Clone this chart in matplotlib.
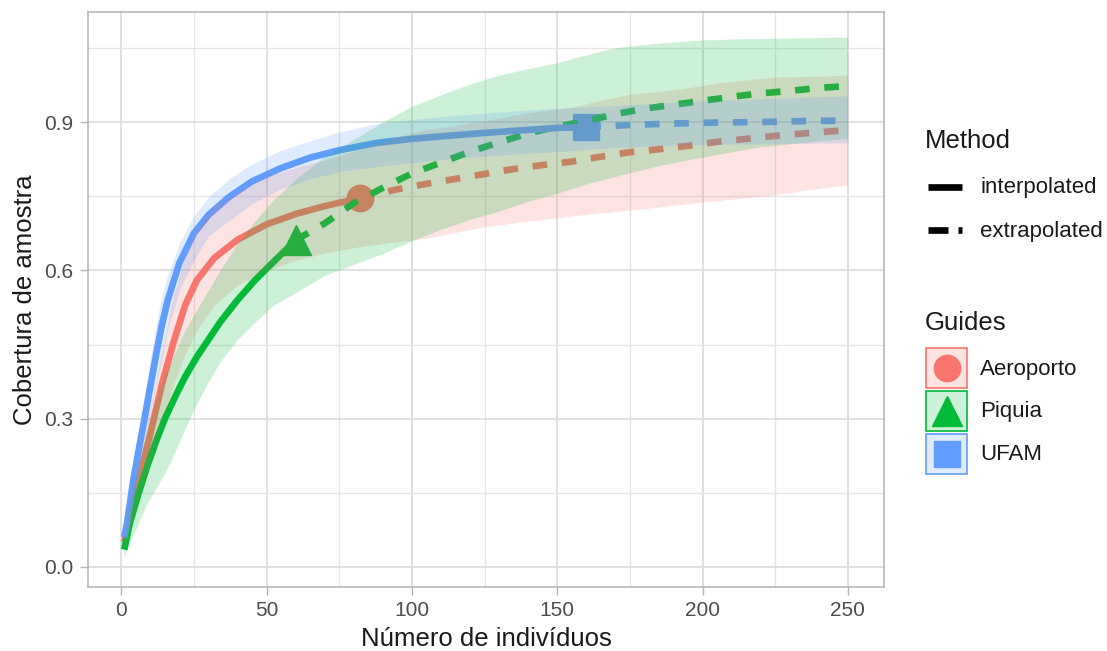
import matplotlib
matplotlib.use("Agg")
import matplotlib.pyplot as plt
from matplotlib.patches import Rectangle
from matplotlib.lines import Line2D

plt.rcParams['font.family'] = ['Liberation Sans', 'DejaVu Sans']

# cores padrao do ggplot
cores = {'Aeroporto': '#F8766D', 'Piquia': '#00BA38', 'UFAM': '#619CFF'}
marcas = {'Aeroporto': 'o', 'Piquia': '^', 'UFAM': 's'}

# Aeroporto
aero_x_int = [1, 3, 6, 10, 14, 18, 22, 26, 32, 40, 50, 60, 70, 82]
aero_y_int = [0.05, 0.1, 0.175, 0.27, 0.37, 0.455, 0.53, 0.58, 0.625, 0.662, 0.693, 0.714, 0.73, 0.746]
aero_x_ext = [82, 95, 105, 115, 125, 135, 145, 155, 165, 175, 185, 195, 205, 215, 225, 235, 250]
aero_y_ext = [0.746, 0.764, 0.775, 0.785, 0.795, 0.805, 0.813, 0.82, 0.83, 0.839, 0.845, 0.852, 0.86, 0.866,
              0.872, 0.877, 0.884]
aero_lo = [0.03, 0.08, 0.14, 0.21, 0.3, 0.37, 0.43, 0.48, 0.53, 0.57, 0.6, 0.62, 0.635, 0.648,
           0.658, 0.665, 0.677, 0.688, 0.696, 0.703, 0.71, 0.716, 0.722, 0.728, 0.735, 0.741, 0.747, 0.753,
           0.762, 0.773]
aero_hi = [0.07, 0.14, 0.22, 0.32, 0.436, 0.55, 0.63, 0.685, 0.73, 0.758, 0.79, 0.808, 0.823, 0.845,
           0.87, 0.885, 0.893, 0.902, 0.914, 0.923, 0.93, 0.944, 0.956, 0.962, 0.969, 0.979, 0.985, 0.991,
           0.992, 0.995]

# Piquia
piq_x_int = [1, 3, 6, 9, 12, 15, 19, 22, 26, 30, 34, 40, 46, 52, 60]
piq_y_int = [0.035, 0.09, 0.15, 0.205, 0.255, 0.3, 0.35, 0.385, 0.425, 0.46, 0.495, 0.54, 0.58, 0.615, 0.661]
piq_x_ext = [60, 70, 80, 90, 100, 110, 120, 130, 140, 150, 160, 170, 180, 190, 200, 210, 220, 230, 240, 250]
piq_y_ext = [0.661, 0.695, 0.736, 0.767, 0.796, 0.818, 0.84, 0.859, 0.877, 0.891, 0.902, 0.916, 0.927,
             0.935, 0.943, 0.951, 0.958, 0.963, 0.969, 0.973]
piq_lo = [0.02, 0.05, 0.09, 0.13, 0.16, 0.19, 0.24, 0.28, 0.33, 0.375, 0.415, 0.46, 0.495, 0.528, 0.555,
          0.59, 0.612, 0.634, 0.66, 0.683, 0.703, 0.72, 0.74, 0.756, 0.775, 0.79, 0.805, 0.818, 0.829,
          0.84, 0.85, 0.856, 0.862, 0.867]
piq_hi = [0.05, 0.13, 0.21, 0.28, 0.34, 0.39, 0.44, 0.48, 0.52, 0.56, 0.6, 0.655, 0.7, 0.74, 0.785,
          0.83, 0.865, 0.9, 0.932, 0.955, 0.977, 0.995, 1.008, 1.02, 1.036, 1.05, 1.057, 1.062, 1.066,
          1.068, 1.069, 1.07, 1.071, 1.072]

# UFAM
ufam_x_int = [1, 2, 4, 6, 8, 10, 12, 14, 16, 20, 25, 30, 37, 45, 55, 65, 75, 88, 100, 112, 125, 137, 150, 160]
ufam_y_int = [0.06, 0.09, 0.17, 0.237, 0.3, 0.365, 0.43, 0.49, 0.54, 0.615, 0.675, 0.712, 0.748, 0.78, 0.807,
              0.828, 0.843, 0.858, 0.866, 0.872, 0.878, 0.883, 0.888, 0.89]
ufam_x_ext = [160, 175, 190, 205, 220, 235, 250]
ufam_y_ext = [0.89, 0.894, 0.897, 0.899, 0.9, 0.902, 0.903]
ufam_lo = [0.05, 0.07, 0.14, 0.2, 0.26, 0.31, 0.37, 0.42, 0.48, 0.56, 0.62, 0.67, 0.7, 0.735, 0.765,
           0.785, 0.8, 0.81, 0.818, 0.825, 0.831, 0.836, 0.84, 0.845,
           0.85, 0.853, 0.855, 0.856, 0.857, 0.858]
ufam_hi = [0.07, 0.11, 0.2, 0.28, 0.35, 0.42, 0.49, 0.55, 0.59, 0.655, 0.71, 0.748, 0.785, 0.815, 0.843,
           0.862, 0.88, 0.897, 0.905, 0.912, 0.918, 0.923, 0.928, 0.931,
           0.935, 0.94, 0.944, 0.947, 0.95, 0.953]

sites = ['Aeroporto', 'Piquia', 'UFAM']
dados = {
    'Aeroporto': (aero_x_int, aero_y_int, aero_x_ext, aero_y_ext, aero_lo, aero_hi),
    'Piquia': (piq_x_int, piq_y_int, piq_x_ext, piq_y_ext, piq_lo, piq_hi),
    'UFAM': (ufam_x_int, ufam_y_int, ufam_x_ext, ufam_y_ext, ufam_lo, ufam_hi),
}

W, H = 1107, 651
fig = plt.figure(figsize=(W / 100, H / 100), dpi=100)
L, R, T, B = 88, 884, 12, 587
ax = fig.add_axes([L / W, 1 - B / H, (R - L) / W, (B - T) / H])

lw = 4.8
# pontos observados
for s in sites:
    xi, yi, xe, ye, lo, hi = dados[s]
    ms = 21 if marcas[s] == '^' else 19
    ax.plot(xi[-1], yi[-1], marker=marcas[s], ms=ms, color=cores[s], ls='none', zorder=3)
# linhas
for s in sites:
    xi, yi, xe, ye, lo, hi = dados[s]
    ax.plot(xi, yi, color=cores[s], lw=lw, solid_capstyle='butt', solid_joinstyle='round', zorder=4)
    ax.plot(xe, ye, color=cores[s], lw=lw, dashes=(2.2, 2.2), dash_capstyle='butt', zorder=4)
# faixas de confianca
for s in sites:
    xi, yi, xe, ye, lo, hi = dados[s]
    xx = xi + xe[1:]
    ax.fill_between(xx, lo, hi, color=cores[s], alpha=0.2, lw=0, zorder=5)

ax.set_xlim(-11.45, 262.45)
ax.set_ylim(-0.0405, 1.1226)
ax.set_xticks([0, 50, 100, 150, 200, 250])
ax.set_xticks([25, 75, 125, 175, 225], minor=True)
ax.set_yticks([0.0, 0.3, 0.6, 0.9])
ax.set_yticklabels(['0.0', '0.3', '0.6', '0.9'])
ax.set_yticks([0.15, 0.45, 0.75, 1.05], minor=True)
ax.grid(which='major', color='#DEDEDE', lw=1.3, zorder=0)
ax.grid(which='minor', color='#E6E6E6', lw=1.0, zorder=0)
ax.set_axisbelow(True)
for sp in ax.spines.values():
    sp.set_color('#B3B3B3')
    sp.set_linewidth(1.1)
ax.tick_params(which='major', length=5.8, width=1.0, color='#B3B3B3', labelcolor='#4D4D4D',
               labelsize=15, pad=4.5)
ax.tick_params(which='minor', length=0)

ax.set_xlabel('Número de indivíduos', fontsize=18.5, color='#1A1A1A', va='center')
ax.xaxis.set_label_coords(0.5, (B - 639) / (B - T))
ax.set_ylabel('Cobertura de amostra', fontsize=18.5, color='#1A1A1A', va='center')
ax.yaxis.set_label_coords((25 - L) / (R - L), 0.5)

# legenda desenhada a mao
lg = fig.add_axes([0, 0, 1, 1], zorder=10)
lg.set_xlim(0, W)
lg.set_ylim(H, 0)
lg.axis('off')
lg.text(925, 141, 'Method', fontsize=18.5, va='center', ha='left', color='#1A1A1A')
lg.add_line(Line2D([928, 962], [187, 187], color='black', lw=lw, solid_capstyle='butt'))
lg.text(980, 188, 'interpolated', fontsize=16, va='center', ha='left', color='#1A1A1A')
lg.add_line(Line2D([928, 962], [230, 230], color='black', lw=lw, dashes=(3.0, 1.5), dash_capstyle='butt'))
lg.text(980, 231, 'extrapolated', fontsize=16, va='center', ha='left', color='#1A1A1A')
lg.text(925, 323, 'Guides', fontsize=18.5, va='center', ha='left', color='#1A1A1A')
for i, s in enumerate(sites):
    yc = 368 + i * 43
    lg.add_patch(Rectangle((926, yc - 20), 41, 40, facecolor=cores[s], alpha=0.2, lw=0))
    lg.add_patch(Rectangle((926, yc - 20), 41, 40, facecolor='none', edgecolor=cores[s], lw=1.2))
    ms = 21 if marcas[s] == '^' else 19
    lg.plot(946.5, yc, marker=marcas[s], ms=ms, color=cores[s], ls='none')
    lg.text(980, yc + 1, s, fontsize=16, va='center', ha='left', color='#1A1A1A')

fig.savefig('out.png', dpi=100)
